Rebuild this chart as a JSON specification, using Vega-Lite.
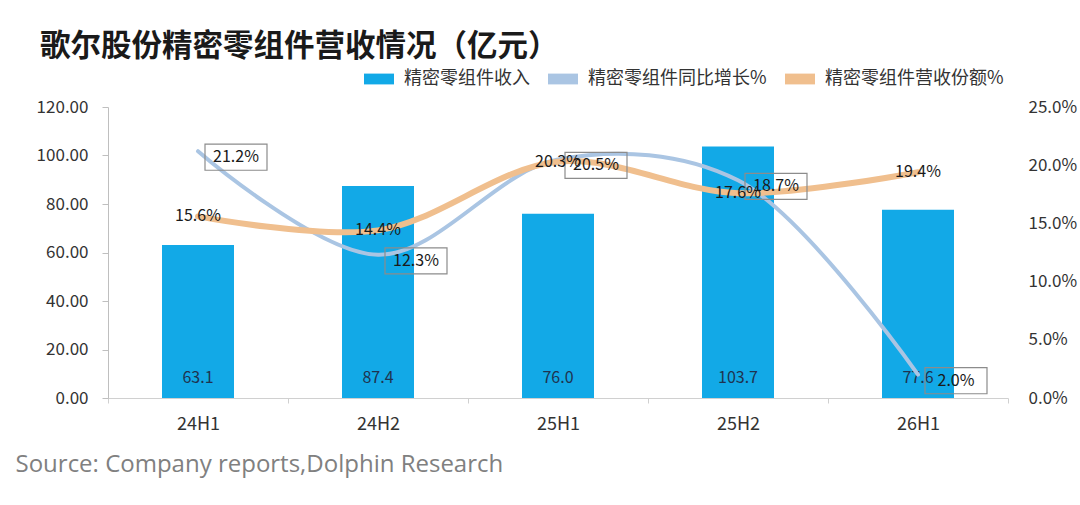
{
  "$schema": "https://vega.github.io/schema/vega-lite/v6.json",
  "width": 900,
  "height": 291,
  "autosize": {"type": "none"},
  "padding": {"left": 108, "top": 107, "right": 72, "bottom": 107},
  "background": "white",
  "config": {
    "view": {"stroke": null},
    "font": "Noto Sans CJK SC",
    "axis": {"labelFont": "Noto Sans CJK SC", "labelColor": "#333333", "grid": false}
  },
  "title": {
    "text": "歌尔股份精密零组件营收情况（亿元）",
    "anchor": "start",
    "frame": "group",
    "dx": -68,
    "offset": 2,
    "fontSize": 30.5,
    "fontWeight": "bold",
    "color": "#1a1a1a"
  },
  "data": {
    "values": [
      {"period": "24H1", "revenue": 63.1, "yoy": 0.212, "share": 0.156},
      {"period": "24H2", "revenue": 87.4, "yoy": 0.123, "share": 0.144},
      {"period": "25H1", "revenue": 76.0, "yoy": 0.205, "share": 0.203},
      {"period": "25H2", "revenue": 103.7, "yoy": 0.187, "share": 0.176},
      {"period": "26H1", "revenue": 77.6, "yoy": 0.02, "share": 0.194}
    ]
  },
  "encoding": {
    "x": {
      "field": "period",
      "type": "nominal",
      "sort": null,
      "scale": {"paddingInner": 0, "paddingOuter": 0},
      "axis": {
        "title": "Source: Company reports,Dolphin Research",
        "titleFont": "Open Sans",
        "titleFontSize": 24,
        "titleFontWeight": "normal",
        "titleColor": "#808080",
        "titleAnchor": "start",
        "titleAlign": "left",
        "titleBaseline": "alphabetic",
        "titleX": -93,
        "titleY": 73,
        "labelAngle": 0,
        "labelFontSize": 18,
        "labelPadding": 12,
        "tickBand": "extent",
        "tickSize": 5,
        "tickColor": "#d0d0d0",
        "domainColor": "#d0d0d0"
      }
    }
  },
  "layer": [
    {
      "layer": [
        {
          "mark": {"type": "bar", "width": {"band": 0.4}},
          "encoding": {
            "y": {
              "field": "revenue",
              "type": "quantitative",
              "scale": {"domain": [0, 120]},
              "axis": {
                "title": null,
                "values": [0, 20, 40, 60, 80, 100, 120],
                "format": ".2f",
                "labelFontSize": 17,
                "labelPadding": 14,
                "domainColor": "#bfbfbf",
                "tickColor": "#bfbfbf",
                "tickSize": 6
              }
            },
            "color": {
              "datum": "精密零组件收入",
              "type": "nominal",
              "scale": {
                "domain": ["精密零组件收入", "精密零组件同比增长%", "精密零组件营收份额%"],
                "range": ["#12a9e7", "#aac5e3", "#f0bf8e"]
              },
              "legend": {
                "title": null,
                "orient": "none",
                "direction": "horizontal",
                "legendX": 256,
                "legendY": -43,
                "symbolType": "M-1,-0.36H1V0.36H-1Z",
                "symbolSize": 900,
                "symbolStrokeWidth": 0,
                "labelFontSize": 18,
                "labelLimit": 400,
                "labelColor": "#333333",
                "columnPadding": 18,
                "labelOffset": 10
              }
            }
          }
        },
        {
          "mark": {"type": "text", "fontSize": 16, "color": "#1f3350", "baseline": "middle", "dy": -20},
          "encoding": {
            "y": {"datum": 0, "type": "quantitative"},
            "text": {"field": "revenue", "type": "quantitative", "format": ".1f"}
          }
        }
      ]
    },
    {
      "encoding": {
        "y": {
          "type": "quantitative",
          "scale": {"domain": [0, 0.25]},
          "axis": {
            "orient": "right",
            "title": null,
            "values": [0, 0.05, 0.1, 0.15, 0.2, 0.25],
            "format": ".1%",
            "labelFontSize": 17,
            "labelPadding": 20,
            "domain": false,
            "ticks": false,
            "labelAlign": "left"
          }
        }
      },
      "layer": [
        {
          "mark": {"type": "line", "interpolate": "catmull-rom", "strokeWidth": 4, "strokeCap": "round"},
          "encoding": {
            "y": {"field": "yoy", "type": "quantitative"},
            "color": {"datum": "精密零组件同比增长%", "type": "nominal"}
          }
        },
        {
          "mark": {"type": "line", "interpolate": "catmull-rom", "strokeWidth": 6, "strokeCap": "round"},
          "encoding": {
            "y": {"field": "share", "type": "quantitative"},
            "color": {"datum": "精密零组件营收份额%", "type": "nominal"}
          }
        },
        {
          "mark": {
            "type": "point",
            "shape": "M-1,-0.42H1V0.42H-1Z",
            "size": 3844,
            "filled": false,
            "stroke": "#8c8c8c",
            "strokeWidth": 1.2,
            "opacity": 1,
            "xOffset": 38,
            "yOffset": 6
          },
          "encoding": {
            "y": {"field": "yoy", "type": "quantitative"}
          }
        },
        {
          "mark": {"type": "text", "fontSize": 16, "color": "#1a1a1a", "baseline": "middle", "dx": 38, "dy": 6},
          "encoding": {
            "y": {"field": "yoy", "type": "quantitative"},
            "text": {"field": "yoy", "type": "quantitative", "format": ".1%"}
          }
        },
        {
          "mark": {"type": "text", "fontSize": 16, "color": "#1a1a1a", "baseline": "middle"},
          "encoding": {
            "y": {"field": "share", "type": "quantitative"},
            "text": {"field": "share", "type": "quantitative", "format": ".1%"}
          }
        }
      ]
    }
  ],
  "resolve": {"scale": {"y": "independent"}}
}
